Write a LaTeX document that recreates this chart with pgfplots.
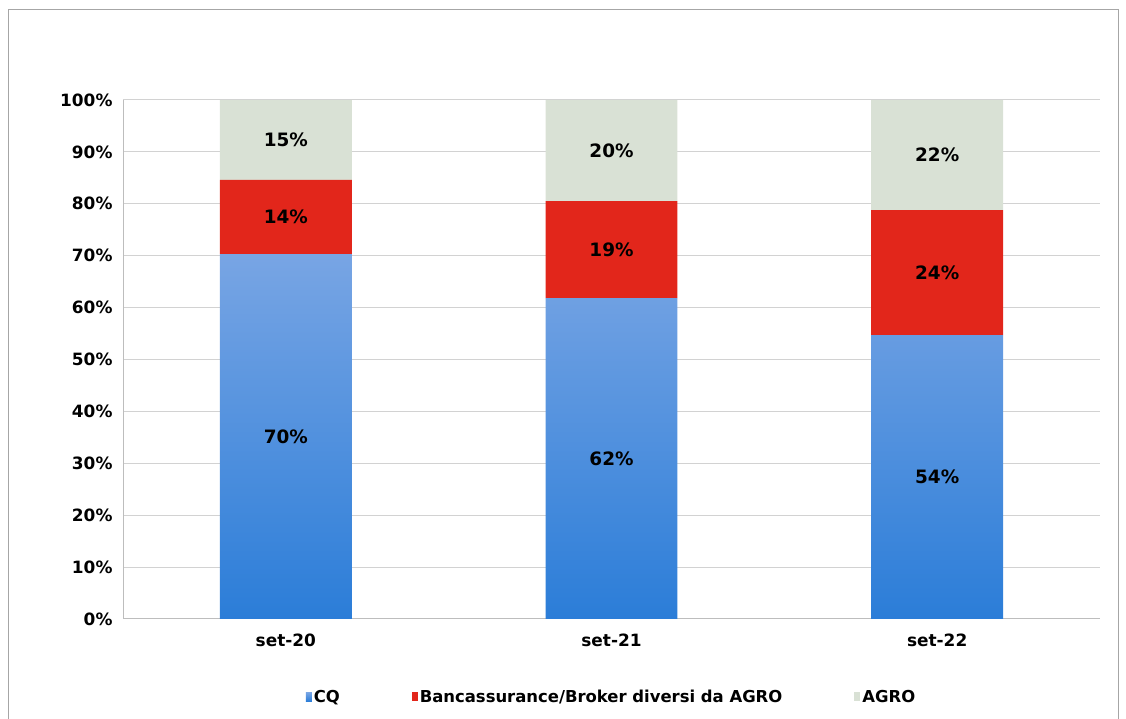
\documentclass[border=0pt]{standalone}
\usepackage{pgfplots}
\pgfplotsset{compat=1.18}
\usepackage{fontspec}
\setmainfont{DejaVu Sans}

\definecolor{cqtop}{HTML}{78A5E4}
\definecolor{cqbot}{HTML}{2B7DD8}
\definecolor{bancred}{HTML}{E2261B}
\definecolor{agrogrey}{HTML}{D9E1D5}
\definecolor{gridgrey}{HTML}{D2D2D2}

\newcommand{\tickfont}{\bfseries\fontsize{17}{20}\selectfont}
\newcommand{\lblfont}{\bfseries\fontsize{18.5}{21}\selectfont}

\begin{document}
\begin{tikzpicture}[x=1bp,y=1bp]
\path[use as bounding box] (0,0) rectangle (1126,719);
\draw[gray!70, line width=1bp] (8,-5) -- (8,709) -- (1118,709) -- (1118,-5);

\begin{axis}[
    at={(123bp,100bp)}, anchor=south west,
    scale only axis,
    width=977bp, height=519bp,
    xmin=-0.5, xmax=2.5,
    ymin=0, ymax=100,
    ybar stacked,
    bar width=0.405,
    xtick={0,1,2},
    xticklabels={set-20,set-21,set-22},
    ytick={0,10,...,100},
    yticklabel={\pgfmathprintnumber{\tick}\%},
    /pgf/number format/assume math mode=true,
    tick label style={font=\tickfont},
    xticklabel style={yshift=-11bp},
    yticklabel style={xshift=-7bp},
    major tick length=0pt,
    axis lines=left,
    axis line style={-, gridgrey!90!black, line width=1bp},
    ymajorgrids,
    grid style={gridgrey, line width=1bp},
    legend style={at={(0.5,-0.15)}, anchor=center, draw=none,
        font=\bfseries\fontsize{16.5}{19}\selectfont,
        /tikz/every even column/.append style={column sep=70bp}},
    legend columns=3,
    legend image code/.code={\fill[#1] (0bp,-4.5bp) rectangle (6bp,4.5bp);},
]
\addplot[draw=none, top color=cqtop, bottom color=cqbot] coordinates {(0,70.3) (1,61.8) (2,54.7)};
\addlegendentry{CQ}
\addplot[draw=none, fill=bancred] coordinates {(0,14.3) (1,18.7) (2,24.1)};
\addlegendentry{Bancassurance/Broker diversi da AGRO}
\addplot[draw=none, fill=agrogrey] coordinates {(0,15.4) (1,19.5) (2,21.2)};
\addlegendentry{AGRO}
\end{axis}

\begin{axis}[
    at={(123bp,100bp)}, anchor=south west,
    scale only axis,
    width=977bp, height=519bp,
    xmin=-0.5, xmax=2.5,
    ymin=0, ymax=100,
    hide axis,
]
\addplot[draw=none, mark=none, nodes near coords, point meta=explicit symbolic,
    every node near coord/.style={anchor=center, font=\lblfont, text=black}]
    coordinates {
    (0,35.15)[70\%] (1,30.9)[62\%] (2,27.35)[54\%]
    (0,77.45)[14\%] (1,71.15)[19\%] (2,66.75)[24\%]
    (0,92.3)[15\%] (1,90.25)[20\%] (2,89.4)[22\%]
    };
\end{axis}
\end{tikzpicture}
\end{document}
